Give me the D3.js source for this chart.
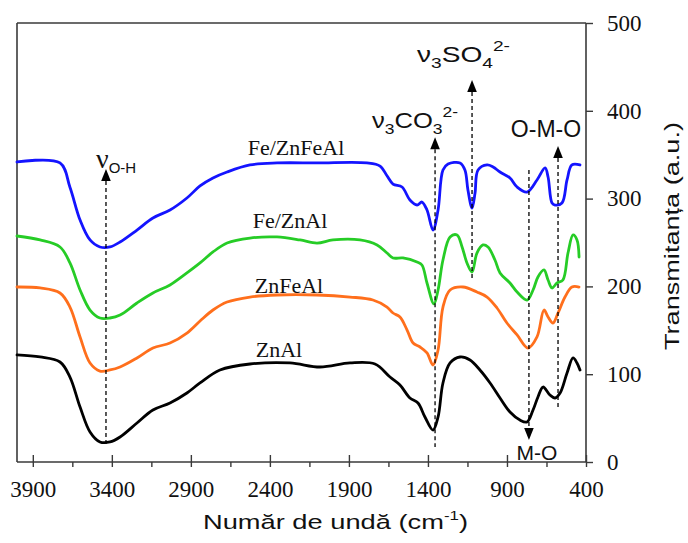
<!DOCTYPE html>
<html><head><meta charset="utf-8">
<script src="https://cdn.jsdelivr.net/npm/d3@7"></script>
<style>body{margin:0;background:#fff}svg{display:block}</style>
</head><body><svg id="c" width="688" height="543"></svg>
<script>
const xTicks = [3900,3400,2900,2400,1900,1400,900,400];
const xMinor = [3650,3150,2650,2150,1650,1150,650];
const yTicks = [0,100,200,300,400,500];
const seriesNames = ["Fe/ZnFeAl","Fe/ZnAl","ZnFeAl","ZnAl"];
const seriesColors = ["#1414ff","#26cc26","#ff6f1c","#000000"];

const feZnFeAlWn = [4000,3728,3665,3601,3538,3475,3412,3348,3241,3140,3032,2925,2842,2760,2671,2526,2355,2102,1786,1703,1659,1621,1564,1514,1469,1438,1406,1368,1336,1305,1273,1197,1166,1147,1121,1102,1083,1026,988,944,881,836,773,710,659,640,615,596,552,520,489,438];
const feZnFeAlT  = [341.7,340.6,313,275.6,252.9,244.9,244.9,250.6,264.2,277.9,287,300.7,314.4,323.5,330.3,338.3,340.6,340.6,340.6,337,326,316.6,313.2,298.4,292.7,296.1,287,264.2,287,332.6,339.4,340.6,332.6,309.8,289.3,306.4,332.6,338.3,336,330.3,323.5,313.2,307.5,321.2,334.9,324.6,295,292.7,295,321.2,338.3,338.3];

const feZnAlWn = [4000,3854,3728,3665,3601,3538,3475,3412,3348,3241,3140,3032,2925,2842,2760,2671,2526,2355,2209,2102,2001,1830,1722,1659,1621,1558,1469,1438,1406,1362,1336,1305,1260,1216,1184,1153,1121,1090,1052,1020,976,944,881,836,773,735,704,666,640,615,583,546,514,482,457,444];
const feZnAlT  = [257.4,252.9,244.9,226.7,195.9,173.1,164,164,167.4,181.1,192.5,201.6,215.3,226.7,239.2,249.4,255.1,256.3,252.9,249.4,252.9,252.9,247.2,238,232.4,232.4,227.8,224.4,203.9,180,195.9,230.1,256.3,258.6,244.9,226.7,216.4,238,247.2,244.9,230.1,215.3,203.9,193.6,184.5,195.9,210.7,218.7,207.3,198.2,203.9,207.3,238,258.6,252.9,233.5];

const znFeAlWn = [4000,3854,3728,3665,3601,3538,3475,3412,3348,3241,3140,3032,2925,2842,2760,2671,2526,2355,2102,1893,1748,1659,1621,1577,1532,1494,1450,1406,1368,1336,1305,1260,1178,1090,1026,963,900,836,767,710,666,640,609,577,533,489,444];
const znFeAlT  = [199.3,198.2,192.5,176.5,142.4,112.8,103.6,104.8,108.2,118.5,129.8,135.5,146.9,160.6,173.1,182.2,187.9,190.2,190.2,187.9,184.5,176.5,169.7,165.2,150.3,135.5,131,124.2,110.5,127.6,176.5,195.9,199.3,193.6,187.9,175.4,158.3,144.7,129.8,142.4,173.1,165.2,158.3,169.7,187.9,199.3,199.3];

const znAlWn = [4000,3854,3728,3665,3601,3538,3475,3412,3348,3241,3140,3032,2925,2842,2716,2526,2273,2083,1893,1735,1640,1577,1514,1463,1419,1368,1336,1305,1260,1197,1134,1071,1007,944,881,818,773,735,704,672,628,596,564,520,482,457,438];
const znAlT  = [121.9,119.6,113.9,96.8,62.6,34.2,22.8,22.8,28.5,44.4,59.2,67.2,78.6,90,104.8,111.6,112.8,108.2,112.8,111.6,96.8,87.7,72.9,67.2,51.3,36.4,51.3,90,112.8,119.6,116.2,104.8,90,72.9,56.9,47.8,45.6,59.2,74,85.4,76.3,72.9,78.6,101.4,118.5,112.8,104.8];

const seriesWn = [feZnFeAlWn, feZnAlWn, znFeAlWn, znAlWn];
const seriesT = [feZnFeAlT, feZnAlT, znFeAlT, znAlT];

const svg = d3.select("#c");
const x = d3.scaleLinear().domain([4000,400]).range([17,586]);
const y = d3.scaleLinear().domain([0,500]).range([462,23]);
const axisColor = "#3a3a3a";

// frame (top & left)
svg.append("line").attr("x1",x(4000)).attr("x2",x(400)).attr("y1",y(500)).attr("y2",y(500)).attr("stroke",axisColor).attr("stroke-width",1.6);
svg.append("line").attr("x1",x(4000)).attr("x2",x(4000)).attr("y1",y(500)).attr("y2",y(0)).attr("stroke",axisColor).attr("stroke-width",1.6);

// bottom axis
const gx = svg.append("g").attr("transform",`translate(0,${y(0)})`)
  .call(d3.axisBottom(x).tickValues(xTicks).tickSizeOuter(0).tickSize(5).tickFormat(d3.format("d")));
gx.select(".domain").attr("stroke",axisColor).attr("stroke-width",1.6).attr("d",`M${x(4000)},0H${x(400)}`);
gx.selectAll(".tick line").attr("y1",-7).attr("y2",5).attr("stroke",axisColor).attr("stroke-width",1.4);
gx.selectAll(".tick text").attr("dy",null).attr("y",35).attr("font-family","Liberation Serif").attr("font-size",23).attr("fill","#111");
const gxm = svg.append("g").attr("transform",`translate(0,${y(0)})`)
  .call(d3.axisBottom(x).tickValues(xMinor).tickSize(5).tickSizeOuter(0).tickFormat(""));
gxm.select(".domain").remove();
gxm.selectAll(".tick line").attr("stroke",axisColor).attr("stroke-width",1.4);

// right axis
const gy = svg.append("g").attr("transform",`translate(${x(400)},0)`)
  .call(d3.axisRight(y).tickValues(yTicks).tickSize(7).tickSizeOuter(0).tickPadding(14));
gy.select(".domain").attr("stroke",axisColor).attr("stroke-width",1.6).attr("d",`M0,${y(0)}V${y(500)}`);
gy.selectAll(".tick line").attr("stroke",axisColor).attr("stroke-width",1.4);
gy.selectAll(".tick text").attr("font-family","Liberation Serif").attr("font-size",23).attr("fill","#111");

// curves
const line = d3.line().x(d=>x(d[0])).y(d=>y(d[1])).curve(d3.curveCatmullRom.alpha(0.5));
seriesWn.forEach((wn,i)=>{
  const pts = wn.map((w,j)=>[w, seriesT[i][j]]);
  svg.append("path").attr("d",line(pts)).attr("fill","none").attr("stroke",seriesColors[i])
    .attr("stroke-width",2.8).attr("stroke-linejoin","round").attr("stroke-linecap","round");
});

// series labels
const labelPos = [[296,155],[290,228],[289,293],[279,357]];
seriesNames.forEach((n,i)=>{
  svg.append("text").attr("x",labelPos[i][0]).attr("y",labelPos[i][1]).attr("text-anchor","middle")
    .attr("font-family","Liberation Serif").attr("font-size",22).attr("fill","#111").text(n);
});

// annotation arrows
function arrow(wn, vTop, vBot, down){
  const ax = x(wn), yt = y(vTop), yb = y(vBot), h = 12, w = 4.8;
  const g = svg.append("g");
  if(!down){
    g.append("line").attr("x1",ax).attr("x2",ax).attr("y1",yt+h).attr("y2",yb)
      .attr("stroke","#000").attr("stroke-width",1.3).attr("stroke-dasharray","4,3");
    g.append("path").attr("d",`M${ax},${yt}L${ax-w},${yt+h}L${ax+w},${yt+h}Z`).attr("fill","#000");
  } else {
    g.append("line").attr("x1",ax).attr("x2",ax).attr("y1",yt).attr("y2",yb-h)
      .attr("stroke","#000").attr("stroke-width",1.3).attr("stroke-dasharray","4,3");
    g.append("path").attr("d",`M${ax},${yb}L${ax-w},${yb-h}L${ax+w},${yb-h}Z`).attr("fill","#000");
  }
}
arrow(3437, 333.7, 19.4, false);
arrow(1355, 370, 17, false);
arrow(1121, 435, 209.6, false);
arrow(577, 360, 61.5, false);
arrow(761, 332.6, 25, true);

// annotation texts
const sans = "Liberation Sans";
const tOH = svg.append("text").attr("x",96).attr("y",168).attr("fill","#111");
tOH.append("tspan").attr("font-family","Liberation Serif").attr("font-size",28).text("ν");
tOH.append("tspan").attr("font-family",sans).attr("font-size",15).attr("dy",5).text("O-H");

const tCO = svg.append("text").attr("x",372).attr("y",128).attr("fill","#111").attr("font-family",sans)
  .attr("textLength",86).attr("lengthAdjust","spacingAndGlyphs");
tCO.append("tspan").attr("font-size",22).text("ν");
tCO.append("tspan").attr("font-size",15).attr("dy",6).text("3");
tCO.append("tspan").attr("font-size",22).attr("dy",-6).text("CO");
tCO.append("tspan").attr("font-size",15).attr("dy",6).text("3");
tCO.append("tspan").attr("font-size",15).attr("dy",-17).text("2-");

const tSO = svg.append("text").attr("x",417).attr("y",62).attr("fill","#111").attr("font-family",sans)
  .attr("textLength",93).attr("lengthAdjust","spacingAndGlyphs");
tSO.append("tspan").attr("font-size",22).text("ν");
tSO.append("tspan").attr("font-size",15).attr("dy",6).text("3");
tSO.append("tspan").attr("font-size",22).attr("dy",-6).text("SO");
tSO.append("tspan").attr("font-size",15).attr("dy",6).text("4");
tSO.append("tspan").attr("font-size",15).attr("dy",-17).text("2-");

svg.append("text").attr("x",546).attr("y",137).attr("text-anchor","middle").attr("font-family",sans)
  .attr("font-size",23).attr("fill","#111").text("O-M-O");
svg.append("text").attr("x",537).attr("y",460).attr("text-anchor","middle").attr("font-family",sans)
  .attr("font-size",21).attr("fill","#111").text("M-O");

// axis titles
const xt = svg.append("text").attr("x",203).attr("y",529).attr("font-family",sans).attr("font-size",21).attr("fill","#111")
  .attr("textLength",265).attr("lengthAdjust","spacingAndGlyphs");
xt.append("tspan").text("Număr de undă (cm");
xt.append("tspan").attr("font-size",13).attr("dy",-9).text("-1");
xt.append("tspan").attr("dy",9).text(")");

svg.append("text").attr("transform","translate(679,236) rotate(-90)").attr("text-anchor","middle")
  .attr("font-family",sans).attr("font-size",21).attr("fill","#111")
  .attr("textLength",228).attr("lengthAdjust","spacingAndGlyphs").text("Transmitanța (a.u.)");
</script></body></html>
